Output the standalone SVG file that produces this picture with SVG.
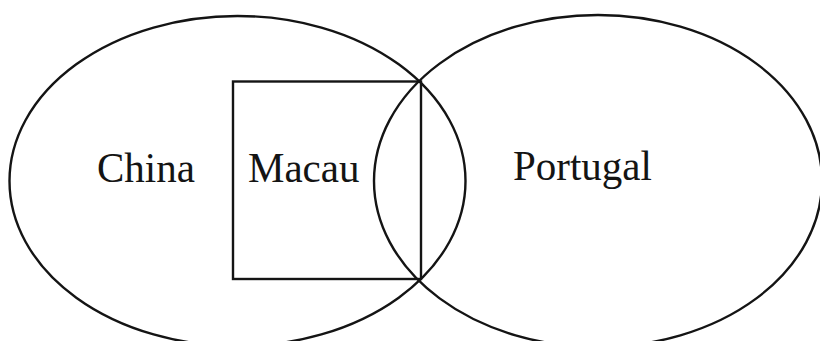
<svg xmlns="http://www.w3.org/2000/svg" width="820" height="341" viewBox="0 0 820 341">
<style>
.s{fill:none;stroke:#141414;stroke-width:2.4}
.t{font-family:"Liberation Serif","Times New Roman",serif;font-size:41px;fill:#141414}
</style>
<rect width="820" height="341" fill="#fff"/>
<g id="china">
<ellipse class="s" cx="237.5" cy="181" rx="228" ry="165"/>
<text class="t" x="97" y="182" transform="translate(0,182) scale(1,1.05) translate(0,-182)">China</text>
</g>
<g id="portugal">
<ellipse class="s" cx="598" cy="181" rx="224" ry="166"/>
<text class="t" x="513" y="180" transform="translate(0,180) scale(1,1.05) translate(0,-180)">Portugal</text>
</g>
<g id="macau">
<rect class="s" x="233" y="81.5" width="188" height="197.5"/>
<text class="t" x="248" y="182" transform="translate(0,182) scale(1,1.05) translate(0,-182)">Macau</text>
</g>
<g id="connectors"></g>
</svg>
